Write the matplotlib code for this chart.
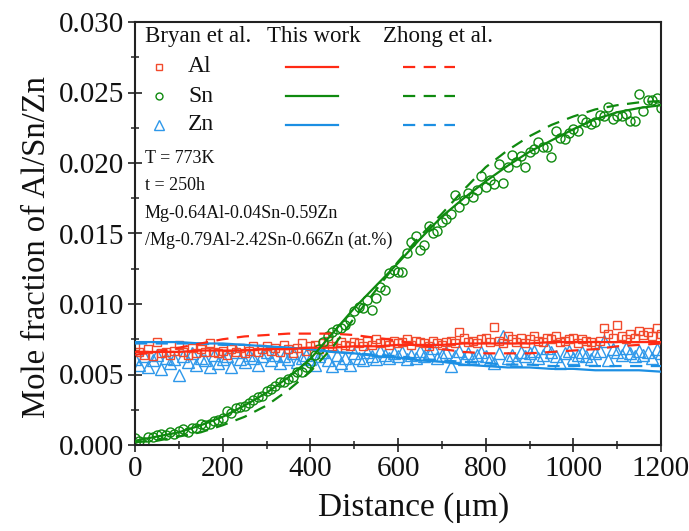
import matplotlib
matplotlib.use("Agg")
import matplotlib.pyplot as plt
from matplotlib.lines import Line2D
from matplotlib.ticker import MultipleLocator, FormatStrFormatter

plt.rcParams['font.family'] = ['Liberation Serif', 'DejaVu Serif']
plt.rcParams['mathtext.fontset'] = 'stix'

# ---------------- data ----------------
distance = [0, 10, 20, 30, 40, 50, 60, 70, 80, 90,
            100, 110, 120, 130, 140, 150, 160, 170, 180, 190,
            200, 210, 220, 230, 240, 250, 260, 270, 280, 290,
            300, 310, 320, 330, 340, 350, 360, 370, 380, 390,
            400, 410, 420, 430, 440, 450, 460, 470, 480, 490,
            500, 510, 520, 530, 540, 550, 560, 570, 580, 590,
            600, 610, 620, 630, 640, 650, 660, 670, 680, 690,
            700, 710, 720, 730, 740, 750, 760, 770, 780, 790,
            800, 810, 820, 830, 840, 850, 860, 870, 880, 890,
            900, 910, 920, 930, 940, 950, 960, 970, 980, 990,
            1000, 1010, 1020, 1030, 1040, 1050, 1060, 1070, 1080, 1090,
            1100, 1110, 1120, 1130, 1140, 1150, 1160, 1170, 1180, 1190,
            1200]

al_exp = [0.0070, 0.0066, 0.0064, 0.0068, 0.0063, 0.0073, 0.0065, 0.0066, 0.0064, 0.0067,
          0.0071, 0.0066, 0.0064, 0.0069, 0.0065, 0.0068, 0.0066, 0.0072, 0.0066, 0.0065,
          0.0067, 0.0064, 0.0068, 0.0066, 0.0069, 0.0065, 0.0067, 0.0070, 0.0066, 0.0068,
          0.0070, 0.0067, 0.0069, 0.0066, 0.0071, 0.0068, 0.0065, 0.0069, 0.0072, 0.0067,
          0.0070, 0.0071, 0.0068, 0.0072, 0.0074, 0.0070, 0.0069, 0.0073, 0.0071, 0.0070,
          0.0073, 0.0072, 0.0070, 0.0074, 0.0071, 0.0075, 0.0072, 0.0073, 0.0071, 0.0074,
          0.0072, 0.0073, 0.0075, 0.0071, 0.0074, 0.0073, 0.0072, 0.0070, 0.0074, 0.0072,
          0.0071, 0.0073, 0.0074, 0.0072, 0.0080, 0.0076, 0.0073, 0.0074, 0.0072, 0.0075,
          0.0076, 0.0073, 0.0084, 0.0074, 0.0072, 0.0077, 0.0075, 0.0073, 0.0076, 0.0072,
          0.0075, 0.0077, 0.0074, 0.0073, 0.0076, 0.0075, 0.0077, 0.0073, 0.0074, 0.0075,
          0.0076, 0.0072, 0.0075, 0.0074, 0.0073, 0.0071, 0.0074, 0.0083, 0.0079, 0.0076,
          0.0085, 0.0077, 0.0075, 0.0079, 0.0076, 0.0081, 0.0078, 0.0080, 0.0077, 0.0083,
          0.0079]

sn_exp = [0.0005, 0.0003, 0.0002, 0.0006, 0.0006, 0.0007, 0.0008, 0.0007, 0.0009, 0.0008,
          0.0010, 0.0011, 0.0009, 0.0012, 0.0012, 0.0015, 0.0014, 0.0015, 0.0017, 0.0018,
          0.0019, 0.0024, 0.0023, 0.0026, 0.0027, 0.0028, 0.0030, 0.0032, 0.0034, 0.0035,
          0.0038, 0.0040, 0.0042, 0.0045, 0.0045, 0.0047, 0.0048, 0.0052, 0.0052, 0.0055,
          0.0058, 0.0064, 0.0068, 0.0073, 0.0077, 0.0080, 0.0082, 0.0083, 0.0085, 0.0089,
          0.0095, 0.0098, 0.0097, 0.0103, 0.0096, 0.0104, 0.0112, 0.0110, 0.0122, 0.0124,
          0.0123, 0.0123, 0.0136, 0.0144, 0.0148, 0.0138, 0.0142, 0.0155, 0.0150, 0.0152,
          0.0158, 0.0160, 0.0164, 0.0177, 0.0169, 0.0174, 0.0179, 0.0176, 0.0181, 0.0191,
          0.0183, 0.0188, 0.0185, 0.0199, 0.0186, 0.0197, 0.0206, 0.0201, 0.0205, 0.0197,
          0.0208, 0.0210, 0.0215, 0.0211, 0.0211, 0.0204, 0.0223, 0.0218, 0.0217, 0.0221,
          0.0224, 0.0223, 0.0231, 0.0229, 0.0228, 0.0229, 0.0234, 0.0233, 0.0240, 0.0231,
          0.0233, 0.0233, 0.0235, 0.0230, 0.0230, 0.0249, 0.0237, 0.0245, 0.0245, 0.0246,
          0.0239]

zn_exp = [0.0061, 0.0057, 0.0063, 0.0055, 0.0060, 0.0064, 0.0054, 0.0062, 0.0058, 0.0061,
          0.0050, 0.0063, 0.0059, 0.0065, 0.0057, 0.0062, 0.0060, 0.0055, 0.0064, 0.0058,
          0.0061, 0.0063, 0.0055, 0.0066, 0.0061, 0.0059, 0.0064, 0.0062, 0.0057, 0.0063,
          0.0066, 0.0060, 0.0064, 0.0058, 0.0063, 0.0061, 0.0065, 0.0059, 0.0062, 0.0064,
          0.0061, 0.0057, 0.0063, 0.0066, 0.0060, 0.0056, 0.0064, 0.0058, 0.0062, 0.0057,
          0.0065, 0.0062, 0.0060, 0.0066, 0.0063, 0.0061, 0.0067, 0.0064, 0.0062, 0.0065,
          0.0063, 0.0066, 0.0061, 0.0064, 0.0062, 0.0067, 0.0063, 0.0065, 0.0069, 0.0062,
          0.0064, 0.0066, 0.0056, 0.0063, 0.0067, 0.0061, 0.0065, 0.0062, 0.0064, 0.0066,
          0.0063, 0.0061, 0.0058, 0.0065, 0.0077, 0.0062, 0.0064, 0.0060, 0.0066, 0.0063,
          0.0065, 0.0067, 0.0062, 0.0064, 0.0069, 0.0066, 0.0063, 0.0058, 0.0065, 0.0067,
          0.0062, 0.0064, 0.0066, 0.0063, 0.0061, 0.0065, 0.0067, 0.0074, 0.0060, 0.0068,
          0.0066, 0.0064, 0.0069, 0.0065, 0.0063, 0.0067, 0.0064, 0.0066, 0.0062, 0.0068,
          0.0065]

# model curves
model_x = [0, 50, 100, 150, 200, 250, 300, 350, 400, 450, 500, 550, 600,
           650, 700, 750, 800, 850, 900, 950, 1000, 1050, 1100, 1150, 1200]

sn_this = [0.0003, 0.0006, 0.0009, 0.0014, 0.0020, 0.0028, 0.0037, 0.0048, 0.0061,
           0.0079, 0.0097, 0.0113, 0.0129, 0.0146, 0.0162, 0.0175, 0.0187, 0.0198,
           0.0208, 0.0216, 0.0224, 0.0231, 0.0236, 0.0239, 0.0241]
sn_zhong = [0.0002, 0.0003, 0.0006, 0.0009, 0.0014, 0.0020, 0.0028, 0.0039, 0.0052,
            0.0069, 0.0090, 0.0110, 0.0130, 0.0148, 0.0164, 0.0181, 0.0197, 0.0209,
            0.0219, 0.0227, 0.0233, 0.0238, 0.0241, 0.0243, 0.0244]

al_this = [0.0066, 0.0066, 0.0066, 0.0067, 0.0067, 0.0067, 0.0068, 0.0068, 0.0069,
           0.0069, 0.0070, 0.0070, 0.0071, 0.0071, 0.0071, 0.0072, 0.0072, 0.0072,
           0.0072, 0.0073, 0.0073, 0.0073, 0.0073, 0.0073, 0.0073]
al_zhong = [0.0064, 0.0066, 0.0069, 0.0072, 0.0075, 0.0077, 0.0078, 0.0079, 0.0079,
            0.0079, 0.0078, 0.0076, 0.0074, 0.0071, 0.0068, 0.0066, 0.0065, 0.0065,
            0.0065, 0.0066, 0.0067, 0.0068, 0.0070, 0.0071, 0.0072]

zn_this = [0.0073, 0.0073, 0.0073, 0.0072, 0.0072, 0.0071, 0.0070, 0.0069, 0.0068,
           0.0066, 0.0065, 0.0063, 0.0062, 0.0060, 0.0059, 0.0057, 0.0056, 0.0055,
           0.0055, 0.0054, 0.0054, 0.0053, 0.0053, 0.0053, 0.0052]
zn_zhong = [0.0072, 0.0072, 0.0072, 0.0072, 0.0071, 0.0071, 0.0070, 0.0069, 0.0068,
            0.0066, 0.0065, 0.0064, 0.0063, 0.0061, 0.0060, 0.0059, 0.0058, 0.0057,
            0.0057, 0.0056, 0.0056, 0.0056, 0.0056, 0.0056, 0.0056]

elements = ["Al", "Sn", "Zn"]
headers = ["Bryan et al.", "This work", "Zhong et al."]
info_lines = ["T = 773K", "t = 250h", "Mg-0.64Al-0.04Sn-0.59Zn",
              "/Mg-0.79Al-2.42Sn-0.66Zn (at.%)"]

# ---------------- style ----------------
RED = '#ff2a14'
RED_M = '#f24a2c'
GREEN = '#0f8a0f'
BLUE = '#1c8fe3'
BLUE_M = '#2e98ea'
colors = [RED, GREEN, BLUE]
mcolors = [RED_M, GREEN, BLUE_M]
markers = ['s', 'o', '^']
msizes = [6.0, 6.5, 8.5]
DASH = (5.5, 3.8)

fig = plt.figure(figsize=(6.89, 5.31), dpi=100)
ax = fig.add_axes([135/689, 86/531, 526/689, 423/531])

exps = [al_exp, sn_exp, zn_exp]
thiss = [al_this, sn_this, zn_this]
zhongs = [al_zhong, sn_zhong, zn_zhong]

for i in [2, 0, 1]:
    ax.plot(distance, exps[i], linestyle='none', marker=markers[i],
            markersize=msizes[i], markerfacecolor='none',
            markeredgecolor=mcolors[i], markeredgewidth=1.0, zorder=2)
for i in [2, 0, 1]:
    ax.plot(model_x, thiss[i], color=colors[i], lw=1.6, zorder=3)
    ax.plot(model_x, zhongs[i], color=colors[i], lw=1.6, dashes=DASH, zorder=3)

ax.set_xlim(0, 1200)
ax.set_ylim(0, 0.030)
ax.xaxis.set_major_locator(MultipleLocator(200))
ax.xaxis.set_minor_locator(MultipleLocator(100))
ax.yaxis.set_major_locator(MultipleLocator(0.005))
ax.yaxis.set_minor_locator(MultipleLocator(0.0025))
ax.yaxis.set_major_formatter(FormatStrFormatter('%.3f'))

ax.tick_params(which='major', direction='inout', length=10, width=1.2,
               labelsize=21, colors='#222222', pad=3)
ax.tick_params(which='minor', direction='inout', length=6, width=1.1,
               colors='#222222')
ax.tick_params(top=False, right=False, which='both')
for tl in ax.get_xticklabels() + ax.get_yticklabels():
    tl.set_color('#111111')
for sp in ax.spines.values():
    sp.set_linewidth(1.5)
    sp.set_color('#222222')

ax.set_xlabel('Distance (μm)', fontsize=24, color='#111111')
ax.set_ylabel('Mole fraction of Al/Sn/Zn', fontsize=23.5, color='#111111')
ax.xaxis.set_label_coords(0.529, -0.112)
ax.yaxis.set_label_coords(-0.158, 0.468)

# ---------------- custom legend ----------------
T = ax.transAxes
hx = [0.019, 0.251, 0.471]
for x, h in zip(hx, headers):
    ax.text(x, 0.965, h, transform=T, fontsize=16.5, va='center', ha='left',
            color='#111111')
rows_y = [0.894, 0.825, 0.757]
for i, (el, yy) in enumerate(zip(elements, rows_y)):
    ax.add_line(Line2D([0.046], [yy], transform=T, marker=markers[i],
                       markersize=msizes[i] - 1.5, markerfacecolor='none',
                       markeredgecolor=mcolors[i], markeredgewidth=1.0,
                       linestyle='none'))
    ax.text(0.101, yy, el, transform=T, fontsize=17, va='center', ha='left',
            color='#111111')
    ax.add_line(Line2D([0.287, 0.386], [yy, yy], transform=T,
                       color=colors[i], lw=1.6))
    ax.add_line(Line2D([0.510, 0.608], [yy, yy], transform=T,
                       color=colors[i], lw=1.6, dashes=DASH))

info_y = [0.677, 0.613, 0.547, 0.483]
for s, yy in zip(info_lines, info_y):
    ax.text(0.019, yy, s, transform=T, fontsize=13, va='center', ha='left',
            color='#111111')

fig.savefig('out.png', dpi=100)
